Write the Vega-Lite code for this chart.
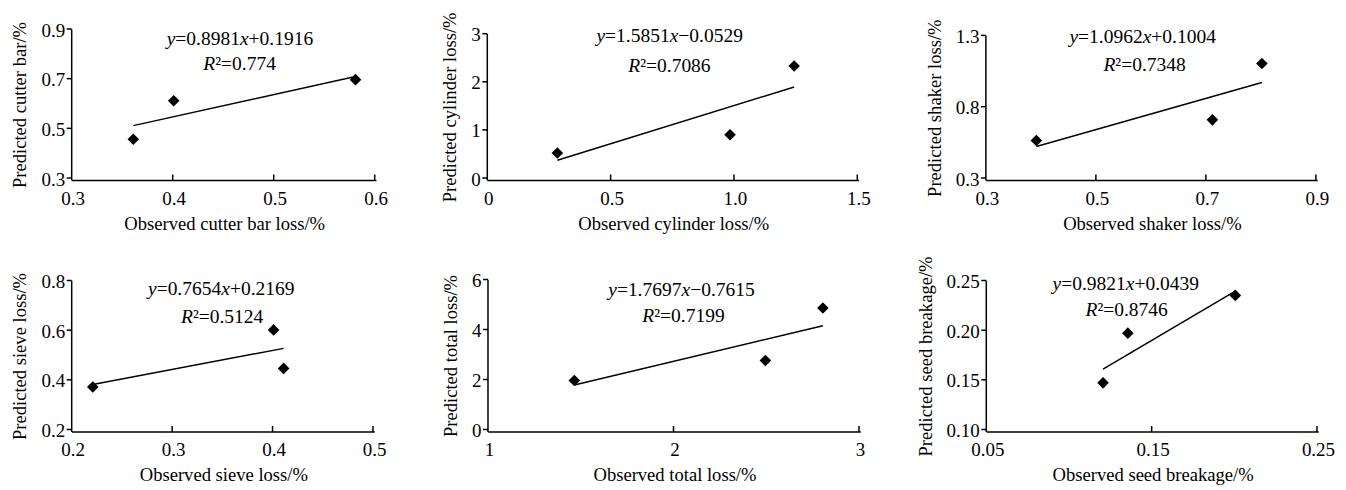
{
  "$schema": "https://vega.github.io/schema/vega-lite/v6.json",
  "padding": {"left": 10.7, "top": 11, "right": 5, "bottom": 5},
  "background": "white",
  "datasets": {
    "pts": [
      {"panel": 1, "obs": 0.36, "pred": 0.46},
      {"panel": 1, "obs": 0.40, "pred": 0.615},
      {"panel": 1, "obs": 0.58, "pred": 0.70},
      {"panel": 2, "obs": 0.28, "pred": 0.54},
      {"panel": 2, "obs": 0.98, "pred": 0.92},
      {"panel": 2, "obs": 1.24, "pred": 2.35},
      {"panel": 3, "obs": 0.39, "pred": 0.57},
      {"panel": 3, "obs": 0.71, "pred": 0.715},
      {"panel": 3, "obs": 0.80, "pred": 1.11},
      {"panel": 4, "obs": 0.22, "pred": 0.375},
      {"panel": 4, "obs": 0.40, "pred": 0.605},
      {"panel": 4, "obs": 0.41, "pred": 0.45},
      {"panel": 5, "obs": 1.46, "pred": 2.0},
      {"panel": 5, "obs": 2.49, "pred": 2.8},
      {"panel": 5, "obs": 2.80, "pred": 4.9},
      {"panel": 6, "obs": 0.12, "pred": 0.148},
      {"panel": 6, "obs": 0.135, "pred": 0.198},
      {"panel": 6, "obs": 0.20, "pred": 0.236}
    ],
    "fit": [
      {"panel": 1, "obs": 0.36, "pred": 0.5149},
      {"panel": 1, "obs": 0.58, "pred": 0.7125},
      {"panel": 2, "obs": 0.28, "pred": 0.3909},
      {"panel": 2, "obs": 1.24, "pred": 1.9126},
      {"panel": 3, "obs": 0.39, "pred": 0.5279},
      {"panel": 3, "obs": 0.80, "pred": 0.9774},
      {"panel": 4, "obs": 0.22, "pred": 0.3853},
      {"panel": 4, "obs": 0.41, "pred": 0.5307},
      {"panel": 5, "obs": 1.46, "pred": 1.8223},
      {"panel": 5, "obs": 2.80, "pred": 4.1937},
      {"panel": 6, "obs": 0.12, "pred": 0.1618},
      {"panel": 6, "obs": 0.20, "pred": 0.2403}
    ],
    "frame": [
      {"panel": 1, "obs": 0.3, "obs2": 0.6, "pred": 0.3, "pred2": 0.9},
      {"panel": 2, "obs": 0, "obs2": 1.5, "pred": 0, "pred2": 3},
      {"panel": 3, "obs": 0.3, "obs2": 0.9, "pred": 0.3, "pred2": 1.3},
      {"panel": 4, "obs": 0.2, "obs2": 0.5, "pred": 0.2, "pred2": 0.8},
      {"panel": 5, "obs": 1, "obs2": 3, "pred": 0, "pred2": 6},
      {"panel": 6, "obs": 0.05, "obs2": 0.25, "pred": 0.1, "pred2": 0.25}
    ],
    "xtick": [
      {"panel": 1, "obs": 0.4, "pred": 0.3}, {"panel": 1, "obs": 0.5, "pred": 0.3}, {"panel": 1, "obs": 0.6, "pred": 0.3},
      {"panel": 2, "obs": 0.5, "pred": 0}, {"panel": 2, "obs": 1, "pred": 0}, {"panel": 2, "obs": 1.5, "pred": 0},
      {"panel": 3, "obs": 0.5, "pred": 0.3}, {"panel": 3, "obs": 0.7, "pred": 0.3}, {"panel": 3, "obs": 0.9, "pred": 0.3},
      {"panel": 4, "obs": 0.3, "pred": 0.2}, {"panel": 4, "obs": 0.4, "pred": 0.2}, {"panel": 4, "obs": 0.5, "pred": 0.2},
      {"panel": 5, "obs": 2, "pred": 0}, {"panel": 5, "obs": 3, "pred": 0},
      {"panel": 6, "obs": 0.15, "pred": 0.1}, {"panel": 6, "obs": 0.25, "pred": 0.1}
    ],
    "ytick": [
      {"panel": 1, "obs": 0.3, "pred": 0.3}, {"panel": 1, "obs": 0.3, "pred": 0.5}, {"panel": 1, "obs": 0.3, "pred": 0.7}, {"panel": 1, "obs": 0.3, "pred": 0.9},
      {"panel": 2, "obs": 0, "pred": 0}, {"panel": 2, "obs": 0, "pred": 1}, {"panel": 2, "obs": 0, "pred": 2}, {"panel": 2, "obs": 0, "pred": 3},
      {"panel": 3, "obs": 0.3, "pred": 0.3}, {"panel": 3, "obs": 0.3, "pred": 0.8}, {"panel": 3, "obs": 0.3, "pred": 1.3},
      {"panel": 4, "obs": 0.2, "pred": 0.2}, {"panel": 4, "obs": 0.2, "pred": 0.4}, {"panel": 4, "obs": 0.2, "pred": 0.6}, {"panel": 4, "obs": 0.2, "pred": 0.8},
      {"panel": 5, "obs": 1, "pred": 0}, {"panel": 5, "obs": 1, "pred": 2}, {"panel": 5, "obs": 1, "pred": 4}, {"panel": 5, "obs": 1, "pred": 6},
      {"panel": 6, "obs": 0.05, "pred": 0.1}, {"panel": 6, "obs": 0.05, "pred": 0.15}, {"panel": 6, "obs": 0.05, "pred": 0.2}, {"panel": 6, "obs": 0.05, "pred": 0.25}
    ],
    "eq": [
      {"panel": 1, "obs": 0.4656, "pred": 0.863, "coef": "=0.8981", "icpt": "+0.1916"},
      {"panel": 2, "obs": 0.7354, "pred": 2.981, "coef": "=1.5851", "icpt": "−0.0529"},
      {"panel": 3, "obs": 0.5833, "pred": 1.2944, "coef": "=1.0962", "icpt": "+0.1004"},
      {"panel": 4, "obs": 0.3479, "pred": 0.7701, "coef": "=0.7654", "icpt": "+0.2169"},
      {"panel": 5, "obs": 2.0377, "pred": 5.624, "coef": "=1.7697", "icpt": "−0.7615"},
      {"panel": 6, "obs": 0.1338, "pred": 0.2476, "coef": "=0.9821", "icpt": "+0.0439"}
    ],
    "r2": [
      {"panel": 1, "obs": 0.4411, "pred": 0.7635, "r2": "²=0.774"},
      {"panel": 2, "obs": 0.6158, "pred": 2.355, "r2": "²=0.7086"},
      {"panel": 3, "obs": 0.5336, "pred": 1.1015, "r2": "²=0.7348"},
      {"panel": 4, "obs": 0.3197, "pred": 0.6589, "r2": "²=0.5124"},
      {"panel": 5, "obs": 1.891, "pred": 4.596, "r2": "²=0.7199"},
      {"panel": 6, "obs": 0.1166, "pred": 0.2218, "r2": "²=0.8746"}
    ]
  },
  "spacing": 21.5,
  "vconcat": [
    {
      "bounds": "flush",
      "spacing": 112.6,
      "hconcat": [
        {
          "width": 303, "height": 149,
          "layer": [
            {"data": {"name": "fit"}, "transform": [{"filter": "datum.panel == 1"}],
             "mark": {"type": "line", "color": "#000", "strokeWidth": 1.5},
             "encoding": {
               "x": {"field": "obs", "type": "quantitative", "scale": {"domain": [0.3, 0.6], "nice": false, "zero": false}, "axis": {"domain": false, "tickOpacity": 0, "tickSize": -6, "labelPadding": 16, "titlePadding": 6.5, "labelOverlap": false, "labelFlush": false, "grid": false, "values": [0.3, 0.4, 0.5, 0.6], "format": ".1f", "title": "Observed cutter bar loss/%"}},
               "y": {"field": "pred", "type": "quantitative", "scale": {"domain": [0.3, 0.9], "nice": false, "zero": false}, "axis": {"domain": false, "tickOpacity": 0, "tickSize": 5, "labelPadding": 3, "titlePadding": 11, "labelOverlap": false, "labelFlush": false, "grid": false, "values": [0.3, 0.5, 0.7, 0.9], "format": ".1f", "title": "Predicted cutter bar/%"}}}},
            {"data": {"name": "frame"}, "transform": [{"filter": "datum.panel == 1"}],
             "mark": {"type": "rule", "color": "#000", "strokeWidth": 1.5, "strokeCap": "square", "yOffset": 1.5},
             "encoding": {"x": {"field": "obs", "type": "quantitative"}, "x2": {"field": "obs2"}, "y": {"field": "pred", "type": "quantitative"}}},
            {"data": {"name": "frame"}, "transform": [{"filter": "datum.panel == 1"}],
             "mark": {"type": "rule", "color": "#000", "strokeWidth": 1.5, "strokeCap": "square", "xOffset": -1, "yOffset": 0.75},
             "encoding": {"x": {"field": "obs", "type": "quantitative"}, "y": {"field": "pred", "type": "quantitative"}, "y2": {"field": "pred2"}}},
            {"data": {"name": "xtick"}, "transform": [{"filter": "datum.panel == 1"}],
             "mark": {"type": "tick", "orient": "vertical", "size": 6, "thickness": 1.5, "xOffset": -1, "yOffset": -1.5, "color": "#000", "opacity": 1},
             "encoding": {"x": {"field": "obs", "type": "quantitative"}, "y": {"field": "pred", "type": "quantitative"}}},
            {"data": {"name": "ytick"}, "transform": [{"filter": "datum.panel == 1"}],
             "mark": {"type": "tick", "orient": "horizontal", "size": 5, "thickness": 1.5, "xOffset": -3.5, "yOffset": -1, "color": "#000", "opacity": 1},
             "encoding": {"x": {"field": "obs", "type": "quantitative"}, "y": {"field": "pred", "type": "quantitative"}}},
            {"data": {"name": "pts"}, "transform": [{"filter": "datum.panel == 1"}],
             "mark": {"type": "point", "shape": "diamond", "filled": true, "color": "#000", "size": 135, "opacity": 1},
             "encoding": {"x": {"field": "obs", "type": "quantitative"}, "y": {"field": "pred", "type": "quantitative"}}},
            {"data": {"name": "eq"}, "transform": [{"filter": "datum.panel == 1"}],
             "mark": {"type": "text", "text": "y", "fontStyle": "italic", "align": "left", "dx": -73.25},
             "encoding": {"x": {"field": "obs", "type": "quantitative"}, "y": {"field": "pred", "type": "quantitative"}}},
            {"data": {"name": "eq"}, "transform": [{"filter": "datum.panel == 1"}],
             "mark": {"type": "text", "align": "left", "dx": -64.6},
             "encoding": {"x": {"field": "obs", "type": "quantitative"}, "y": {"field": "pred", "type": "quantitative"}, "text": {"field": "coef"}}},
            {"data": {"name": "eq"}, "transform": [{"filter": "datum.panel == 1"}],
             "mark": {"type": "text", "text": "x", "fontStyle": "italic", "align": "left", "dx": 0},
             "encoding": {"x": {"field": "obs", "type": "quantitative"}, "y": {"field": "pred", "type": "quantitative"}}},
            {"data": {"name": "eq"}, "transform": [{"filter": "datum.panel == 1"}],
             "mark": {"type": "text", "align": "left", "dx": 8.66},
             "encoding": {"x": {"field": "obs", "type": "quantitative"}, "y": {"field": "pred", "type": "quantitative"}, "text": {"field": "icpt"}}},
            {"data": {"name": "r2"}, "transform": [{"filter": "datum.panel == 1"}],
             "mark": {"type": "text", "text": "R", "fontStyle": "italic", "align": "right"},
             "encoding": {"x": {"field": "obs", "type": "quantitative"}, "y": {"field": "pred", "type": "quantitative"}}},
            {"data": {"name": "r2"}, "transform": [{"filter": "datum.panel == 1"}],
             "mark": {"type": "text", "align": "left"},
             "encoding": {"x": {"field": "obs", "type": "quantitative"}, "y": {"field": "pred", "type": "quantitative"}, "text": {"field": "r2"}}}
          ]
        },
        {
          "width": 385.8, "height": 149,
          "layer": [
            {"data": {"name": "fit"}, "transform": [{"filter": "datum.panel == 2"}],
             "mark": {"type": "line", "color": "#000", "strokeWidth": 1.5},
             "encoding": {
               "x": {"field": "obs", "type": "quantitative", "scale": {"domain": [0, 1.5], "range": [0, 370], "nice": false, "zero": false}, "axis": {"domain": false, "tickOpacity": 0, "tickSize": -6, "labelPadding": 16, "titlePadding": 6.5, "labelOverlap": false, "labelFlush": false, "grid": false, "values": [0, 0.5, 1, 1.5], "labelExpr": "datum.value == 0 ? '0' : format(datum.value, '.1f')", "title": "Observed cylinder loss/%"}},
               "y": {"field": "pred", "type": "quantitative", "scale": {"domain": [0, 3], "range": [149, 4.7], "nice": false, "zero": false}, "axis": {"domain": false, "tickOpacity": 0, "tickSize": 5, "labelPadding": 3, "titlePadding": 11, "labelOverlap": false, "labelFlush": false, "grid": false, "values": [0, 1, 2, 3], "labelExpr": "format(datum.value, 'd')", "title": "Predicted cylinder loss/%"}}}},
            {"data": {"name": "frame"}, "transform": [{"filter": "datum.panel == 2"}],
             "mark": {"type": "rule", "color": "#000", "strokeWidth": 1.5, "strokeCap": "square", "yOffset": 1.5},
             "encoding": {"x": {"field": "obs", "type": "quantitative"}, "x2": {"field": "obs2"}, "y": {"field": "pred", "type": "quantitative"}}},
            {"data": {"name": "frame"}, "transform": [{"filter": "datum.panel == 2"}],
             "mark": {"type": "rule", "color": "#000", "strokeWidth": 1.5, "strokeCap": "square", "xOffset": -1, "yOffset": 0.75},
             "encoding": {"x": {"field": "obs", "type": "quantitative"}, "y": {"field": "pred", "type": "quantitative"}, "y2": {"field": "pred2"}}},
            {"data": {"name": "xtick"}, "transform": [{"filter": "datum.panel == 2"}],
             "mark": {"type": "tick", "orient": "vertical", "size": 6, "thickness": 1.5, "xOffset": -1, "yOffset": -1.5, "color": "#000", "opacity": 1},
             "encoding": {"x": {"field": "obs", "type": "quantitative"}, "y": {"field": "pred", "type": "quantitative"}}},
            {"data": {"name": "ytick"}, "transform": [{"filter": "datum.panel == 2"}],
             "mark": {"type": "tick", "orient": "horizontal", "size": 5, "thickness": 1.5, "xOffset": -3.5, "yOffset": -1, "color": "#000", "opacity": 1},
             "encoding": {"x": {"field": "obs", "type": "quantitative"}, "y": {"field": "pred", "type": "quantitative"}}},
            {"data": {"name": "pts"}, "transform": [{"filter": "datum.panel == 2"}],
             "mark": {"type": "point", "shape": "diamond", "filled": true, "color": "#000", "size": 135, "opacity": 1},
             "encoding": {"x": {"field": "obs", "type": "quantitative"}, "y": {"field": "pred", "type": "quantitative"}}},
            {"data": {"name": "eq"}, "transform": [{"filter": "datum.panel == 2"}],
             "mark": {"type": "text", "text": "y", "fontStyle": "italic", "align": "left", "dx": -73.25},
             "encoding": {"x": {"field": "obs", "type": "quantitative"}, "y": {"field": "pred", "type": "quantitative"}}},
            {"data": {"name": "eq"}, "transform": [{"filter": "datum.panel == 2"}],
             "mark": {"type": "text", "align": "left", "dx": -64.6},
             "encoding": {"x": {"field": "obs", "type": "quantitative"}, "y": {"field": "pred", "type": "quantitative"}, "text": {"field": "coef"}}},
            {"data": {"name": "eq"}, "transform": [{"filter": "datum.panel == 2"}],
             "mark": {"type": "text", "text": "x", "fontStyle": "italic", "align": "left", "dx": 0},
             "encoding": {"x": {"field": "obs", "type": "quantitative"}, "y": {"field": "pred", "type": "quantitative"}}},
            {"data": {"name": "eq"}, "transform": [{"filter": "datum.panel == 2"}],
             "mark": {"type": "text", "align": "left", "dx": 8.66},
             "encoding": {"x": {"field": "obs", "type": "quantitative"}, "y": {"field": "pred", "type": "quantitative"}, "text": {"field": "icpt"}}},
            {"data": {"name": "r2"}, "transform": [{"filter": "datum.panel == 2"}],
             "mark": {"type": "text", "text": "R", "fontStyle": "italic", "align": "right"},
             "encoding": {"x": {"field": "obs", "type": "quantitative"}, "y": {"field": "pred", "type": "quantitative"}}},
            {"data": {"name": "r2"}, "transform": [{"filter": "datum.panel == 2"}],
             "mark": {"type": "text", "align": "left"},
             "encoding": {"x": {"field": "obs", "type": "quantitative"}, "y": {"field": "pred", "type": "quantitative"}, "text": {"field": "r2"}}}
          ]
        },
        {
          "width": 330, "height": 149,
          "layer": [
            {"data": {"name": "fit"}, "transform": [{"filter": "datum.panel == 3"}],
             "mark": {"type": "line", "color": "#000", "strokeWidth": 1.5},
             "encoding": {
               "x": {"field": "obs", "type": "quantitative", "scale": {"domain": [0.3, 0.9], "nice": false, "zero": false}, "axis": {"domain": false, "tickOpacity": 0, "tickSize": -6, "labelPadding": 16, "titlePadding": 6.5, "labelOverlap": false, "labelFlush": false, "grid": false, "values": [0.3, 0.5, 0.7, 0.9], "format": ".1f", "title": "Observed shaker loss/%"}},
               "y": {"field": "pred", "type": "quantitative", "scale": {"domain": [0.3, 1.3], "range": [149, 6.4], "nice": false, "zero": false}, "axis": {"domain": false, "tickOpacity": 0, "tickSize": 5, "labelPadding": 3, "titlePadding": 11, "labelOverlap": false, "labelFlush": false, "grid": false, "values": [0.3, 0.8, 1.3], "format": ".1f", "title": "Predicted shaker loss/%"}}}},
            {"data": {"name": "frame"}, "transform": [{"filter": "datum.panel == 3"}],
             "mark": {"type": "rule", "color": "#000", "strokeWidth": 1.5, "strokeCap": "square", "yOffset": 1.5},
             "encoding": {"x": {"field": "obs", "type": "quantitative"}, "x2": {"field": "obs2"}, "y": {"field": "pred", "type": "quantitative"}}},
            {"data": {"name": "frame"}, "transform": [{"filter": "datum.panel == 3"}],
             "mark": {"type": "rule", "color": "#000", "strokeWidth": 1.5, "strokeCap": "square", "xOffset": -1, "yOffset": 0.75},
             "encoding": {"x": {"field": "obs", "type": "quantitative"}, "y": {"field": "pred", "type": "quantitative"}, "y2": {"field": "pred2"}}},
            {"data": {"name": "xtick"}, "transform": [{"filter": "datum.panel == 3"}],
             "mark": {"type": "tick", "orient": "vertical", "size": 6, "thickness": 1.5, "xOffset": -1, "yOffset": -1.5, "color": "#000", "opacity": 1},
             "encoding": {"x": {"field": "obs", "type": "quantitative"}, "y": {"field": "pred", "type": "quantitative"}}},
            {"data": {"name": "ytick"}, "transform": [{"filter": "datum.panel == 3"}],
             "mark": {"type": "tick", "orient": "horizontal", "size": 5, "thickness": 1.5, "xOffset": -3.5, "yOffset": -1, "color": "#000", "opacity": 1},
             "encoding": {"x": {"field": "obs", "type": "quantitative"}, "y": {"field": "pred", "type": "quantitative"}}},
            {"data": {"name": "pts"}, "transform": [{"filter": "datum.panel == 3"}],
             "mark": {"type": "point", "shape": "diamond", "filled": true, "color": "#000", "size": 135, "opacity": 1},
             "encoding": {"x": {"field": "obs", "type": "quantitative"}, "y": {"field": "pred", "type": "quantitative"}}},
            {"data": {"name": "eq"}, "transform": [{"filter": "datum.panel == 3"}],
             "mark": {"type": "text", "text": "y", "fontStyle": "italic", "align": "left", "dx": -73.25},
             "encoding": {"x": {"field": "obs", "type": "quantitative"}, "y": {"field": "pred", "type": "quantitative"}}},
            {"data": {"name": "eq"}, "transform": [{"filter": "datum.panel == 3"}],
             "mark": {"type": "text", "align": "left", "dx": -64.6},
             "encoding": {"x": {"field": "obs", "type": "quantitative"}, "y": {"field": "pred", "type": "quantitative"}, "text": {"field": "coef"}}},
            {"data": {"name": "eq"}, "transform": [{"filter": "datum.panel == 3"}],
             "mark": {"type": "text", "text": "x", "fontStyle": "italic", "align": "left", "dx": 0},
             "encoding": {"x": {"field": "obs", "type": "quantitative"}, "y": {"field": "pred", "type": "quantitative"}}},
            {"data": {"name": "eq"}, "transform": [{"filter": "datum.panel == 3"}],
             "mark": {"type": "text", "align": "left", "dx": 8.66},
             "encoding": {"x": {"field": "obs", "type": "quantitative"}, "y": {"field": "pred", "type": "quantitative"}, "text": {"field": "icpt"}}},
            {"data": {"name": "r2"}, "transform": [{"filter": "datum.panel == 3"}],
             "mark": {"type": "text", "text": "R", "fontStyle": "italic", "align": "right"},
             "encoding": {"x": {"field": "obs", "type": "quantitative"}, "y": {"field": "pred", "type": "quantitative"}}},
            {"data": {"name": "r2"}, "transform": [{"filter": "datum.panel == 3"}],
             "mark": {"type": "text", "align": "left"},
             "encoding": {"x": {"field": "obs", "type": "quantitative"}, "y": {"field": "pred", "type": "quantitative"}, "text": {"field": "r2"}}}
          ]
        }
      ]
    },
    {
      "bounds": "flush",
      "spacing": 114.3,
      "hconcat": [
        {
          "width": 301.3, "height": 150,
          "layer": [
            {"data": {"name": "fit"}, "transform": [{"filter": "datum.panel == 4"}],
             "mark": {"type": "line", "color": "#000", "strokeWidth": 1.5},
             "encoding": {
               "x": {"field": "obs", "type": "quantitative", "scale": {"domain": [0.2, 0.5], "nice": false, "zero": false}, "axis": {"domain": false, "tickOpacity": 0, "tickSize": -6, "labelPadding": 16, "titlePadding": 6.5, "labelOverlap": false, "labelFlush": false, "grid": false, "values": [0.2, 0.3, 0.4, 0.5], "format": ".1f", "title": "Observed sieve loss/%"}},
               "y": {"field": "pred", "type": "quantitative", "scale": {"domain": [0.2, 0.8], "range": [150, 1], "nice": false, "zero": false}, "axis": {"domain": false, "tickOpacity": 0, "tickSize": 5, "labelPadding": 3, "titlePadding": 11, "labelOverlap": false, "labelFlush": false, "grid": false, "values": [0.2, 0.4, 0.6, 0.8], "format": ".1f", "title": "Predicted sieve loss/%"}}}},
            {"data": {"name": "frame"}, "transform": [{"filter": "datum.panel == 4"}],
             "mark": {"type": "rule", "color": "#000", "strokeWidth": 1.5, "strokeCap": "square", "yOffset": 1.5},
             "encoding": {"x": {"field": "obs", "type": "quantitative"}, "x2": {"field": "obs2"}, "y": {"field": "pred", "type": "quantitative"}}},
            {"data": {"name": "frame"}, "transform": [{"filter": "datum.panel == 4"}],
             "mark": {"type": "rule", "color": "#000", "strokeWidth": 1.5, "strokeCap": "square", "xOffset": -1, "yOffset": 0.75},
             "encoding": {"x": {"field": "obs", "type": "quantitative"}, "y": {"field": "pred", "type": "quantitative"}, "y2": {"field": "pred2"}}},
            {"data": {"name": "xtick"}, "transform": [{"filter": "datum.panel == 4"}],
             "mark": {"type": "tick", "orient": "vertical", "size": 6, "thickness": 1.5, "xOffset": -1, "yOffset": -1.5, "color": "#000", "opacity": 1},
             "encoding": {"x": {"field": "obs", "type": "quantitative"}, "y": {"field": "pred", "type": "quantitative"}}},
            {"data": {"name": "ytick"}, "transform": [{"filter": "datum.panel == 4"}],
             "mark": {"type": "tick", "orient": "horizontal", "size": 5, "thickness": 1.5, "xOffset": -3.5, "yOffset": -1, "color": "#000", "opacity": 1},
             "encoding": {"x": {"field": "obs", "type": "quantitative"}, "y": {"field": "pred", "type": "quantitative"}}},
            {"data": {"name": "pts"}, "transform": [{"filter": "datum.panel == 4"}],
             "mark": {"type": "point", "shape": "diamond", "filled": true, "color": "#000", "size": 135, "opacity": 1},
             "encoding": {"x": {"field": "obs", "type": "quantitative"}, "y": {"field": "pred", "type": "quantitative"}}},
            {"data": {"name": "eq"}, "transform": [{"filter": "datum.panel == 4"}],
             "mark": {"type": "text", "text": "y", "fontStyle": "italic", "align": "left", "dx": -73.25},
             "encoding": {"x": {"field": "obs", "type": "quantitative"}, "y": {"field": "pred", "type": "quantitative"}}},
            {"data": {"name": "eq"}, "transform": [{"filter": "datum.panel == 4"}],
             "mark": {"type": "text", "align": "left", "dx": -64.6},
             "encoding": {"x": {"field": "obs", "type": "quantitative"}, "y": {"field": "pred", "type": "quantitative"}, "text": {"field": "coef"}}},
            {"data": {"name": "eq"}, "transform": [{"filter": "datum.panel == 4"}],
             "mark": {"type": "text", "text": "x", "fontStyle": "italic", "align": "left", "dx": 0},
             "encoding": {"x": {"field": "obs", "type": "quantitative"}, "y": {"field": "pred", "type": "quantitative"}}},
            {"data": {"name": "eq"}, "transform": [{"filter": "datum.panel == 4"}],
             "mark": {"type": "text", "align": "left", "dx": 8.66},
             "encoding": {"x": {"field": "obs", "type": "quantitative"}, "y": {"field": "pred", "type": "quantitative"}, "text": {"field": "icpt"}}},
            {"data": {"name": "r2"}, "transform": [{"filter": "datum.panel == 4"}],
             "mark": {"type": "text", "text": "R", "fontStyle": "italic", "align": "right"},
             "encoding": {"x": {"field": "obs", "type": "quantitative"}, "y": {"field": "pred", "type": "quantitative"}}},
            {"data": {"name": "r2"}, "transform": [{"filter": "datum.panel == 4"}],
             "mark": {"type": "text", "align": "left"},
             "encoding": {"x": {"field": "obs", "type": "quantitative"}, "y": {"field": "pred", "type": "quantitative"}, "text": {"field": "r2"}}}
          ]
        },
        {
          "width": 383.4, "height": 150,
          "layer": [
            {"data": {"name": "fit"}, "transform": [{"filter": "datum.panel == 5"}],
             "mark": {"type": "line", "color": "#000", "strokeWidth": 1.5},
             "encoding": {
               "x": {"field": "obs", "type": "quantitative", "scale": {"domain": [1, 3], "range": [0, 371], "nice": false, "zero": false}, "axis": {"domain": false, "tickOpacity": 0, "tickSize": -6, "labelPadding": 16, "titlePadding": 6.5, "labelOverlap": false, "labelFlush": false, "grid": false, "values": [1, 2, 3], "labelExpr": "format(datum.value, 'd')", "title": "Observed total loss/%"}},
               "y": {"field": "pred", "type": "quantitative", "scale": {"domain": [0, 6], "nice": false, "zero": false}, "axis": {"domain": false, "tickOpacity": 0, "tickSize": 5, "labelPadding": 3, "titlePadding": 11, "labelOverlap": false, "labelFlush": false, "grid": false, "values": [0, 2, 4, 6], "labelExpr": "format(datum.value, 'd')", "title": "Predicted total loss/%"}}}},
            {"data": {"name": "frame"}, "transform": [{"filter": "datum.panel == 5"}],
             "mark": {"type": "rule", "color": "#000", "strokeWidth": 1.5, "strokeCap": "square", "yOffset": 1.5},
             "encoding": {"x": {"field": "obs", "type": "quantitative"}, "x2": {"field": "obs2"}, "y": {"field": "pred", "type": "quantitative"}}},
            {"data": {"name": "frame"}, "transform": [{"filter": "datum.panel == 5"}],
             "mark": {"type": "rule", "color": "#000", "strokeWidth": 1.5, "strokeCap": "square", "xOffset": -1, "yOffset": 0.75},
             "encoding": {"x": {"field": "obs", "type": "quantitative"}, "y": {"field": "pred", "type": "quantitative"}, "y2": {"field": "pred2"}}},
            {"data": {"name": "xtick"}, "transform": [{"filter": "datum.panel == 5"}],
             "mark": {"type": "tick", "orient": "vertical", "size": 6, "thickness": 1.5, "xOffset": -1, "yOffset": -1.5, "color": "#000", "opacity": 1},
             "encoding": {"x": {"field": "obs", "type": "quantitative"}, "y": {"field": "pred", "type": "quantitative"}}},
            {"data": {"name": "ytick"}, "transform": [{"filter": "datum.panel == 5"}],
             "mark": {"type": "tick", "orient": "horizontal", "size": 5, "thickness": 1.5, "xOffset": -3.5, "yOffset": -1, "color": "#000", "opacity": 1},
             "encoding": {"x": {"field": "obs", "type": "quantitative"}, "y": {"field": "pred", "type": "quantitative"}}},
            {"data": {"name": "pts"}, "transform": [{"filter": "datum.panel == 5"}],
             "mark": {"type": "point", "shape": "diamond", "filled": true, "color": "#000", "size": 135, "opacity": 1},
             "encoding": {"x": {"field": "obs", "type": "quantitative"}, "y": {"field": "pred", "type": "quantitative"}}},
            {"data": {"name": "eq"}, "transform": [{"filter": "datum.panel == 5"}],
             "mark": {"type": "text", "text": "y", "fontStyle": "italic", "align": "left", "dx": -73.25},
             "encoding": {"x": {"field": "obs", "type": "quantitative"}, "y": {"field": "pred", "type": "quantitative"}}},
            {"data": {"name": "eq"}, "transform": [{"filter": "datum.panel == 5"}],
             "mark": {"type": "text", "align": "left", "dx": -64.6},
             "encoding": {"x": {"field": "obs", "type": "quantitative"}, "y": {"field": "pred", "type": "quantitative"}, "text": {"field": "coef"}}},
            {"data": {"name": "eq"}, "transform": [{"filter": "datum.panel == 5"}],
             "mark": {"type": "text", "text": "x", "fontStyle": "italic", "align": "left", "dx": 0},
             "encoding": {"x": {"field": "obs", "type": "quantitative"}, "y": {"field": "pred", "type": "quantitative"}}},
            {"data": {"name": "eq"}, "transform": [{"filter": "datum.panel == 5"}],
             "mark": {"type": "text", "align": "left", "dx": 8.66},
             "encoding": {"x": {"field": "obs", "type": "quantitative"}, "y": {"field": "pred", "type": "quantitative"}, "text": {"field": "icpt"}}},
            {"data": {"name": "r2"}, "transform": [{"filter": "datum.panel == 5"}],
             "mark": {"type": "text", "text": "R", "fontStyle": "italic", "align": "right"},
             "encoding": {"x": {"field": "obs", "type": "quantitative"}, "y": {"field": "pred", "type": "quantitative"}}},
            {"data": {"name": "r2"}, "transform": [{"filter": "datum.panel == 5"}],
             "mark": {"type": "text", "align": "left"},
             "encoding": {"x": {"field": "obs", "type": "quantitative"}, "y": {"field": "pred", "type": "quantitative"}, "text": {"field": "r2"}}}
          ]
        },
        {
          "width": 330.7, "height": 150,
          "layer": [
            {"data": {"name": "fit"}, "transform": [{"filter": "datum.panel == 6"}],
             "mark": {"type": "line", "color": "#000", "strokeWidth": 1.5},
             "encoding": {
               "x": {"field": "obs", "type": "quantitative", "scale": {"domain": [0.05, 0.25], "nice": false, "zero": false}, "axis": {"domain": false, "tickOpacity": 0, "tickSize": -6, "labelPadding": 16, "titlePadding": 6.5, "labelOverlap": false, "labelFlush": false, "grid": false, "values": [0.05, 0.15, 0.25], "format": ".2f", "title": "Observed seed breakage/%"}},
               "y": {"field": "pred", "type": "quantitative", "scale": {"domain": [0.1, 0.25], "range": [150, 1], "nice": false, "zero": false}, "axis": {"domain": false, "tickOpacity": 0, "tickSize": 5, "labelPadding": 3, "titlePadding": 11, "labelOverlap": false, "labelFlush": false, "grid": false, "values": [0.1, 0.15, 0.2, 0.25], "format": ".2f", "title": "Predicted seed breakage/%"}}}},
            {"data": {"name": "frame"}, "transform": [{"filter": "datum.panel == 6"}],
             "mark": {"type": "rule", "color": "#000", "strokeWidth": 1.5, "strokeCap": "square", "yOffset": 1.5},
             "encoding": {"x": {"field": "obs", "type": "quantitative"}, "x2": {"field": "obs2"}, "y": {"field": "pred", "type": "quantitative"}}},
            {"data": {"name": "frame"}, "transform": [{"filter": "datum.panel == 6"}],
             "mark": {"type": "rule", "color": "#000", "strokeWidth": 1.5, "strokeCap": "square", "xOffset": -1, "yOffset": 0.75},
             "encoding": {"x": {"field": "obs", "type": "quantitative"}, "y": {"field": "pred", "type": "quantitative"}, "y2": {"field": "pred2"}}},
            {"data": {"name": "xtick"}, "transform": [{"filter": "datum.panel == 6"}],
             "mark": {"type": "tick", "orient": "vertical", "size": 6, "thickness": 1.5, "xOffset": -1, "yOffset": -1.5, "color": "#000", "opacity": 1},
             "encoding": {"x": {"field": "obs", "type": "quantitative"}, "y": {"field": "pred", "type": "quantitative"}}},
            {"data": {"name": "ytick"}, "transform": [{"filter": "datum.panel == 6"}],
             "mark": {"type": "tick", "orient": "horizontal", "size": 5, "thickness": 1.5, "xOffset": -3.5, "yOffset": -1, "color": "#000", "opacity": 1},
             "encoding": {"x": {"field": "obs", "type": "quantitative"}, "y": {"field": "pred", "type": "quantitative"}}},
            {"data": {"name": "pts"}, "transform": [{"filter": "datum.panel == 6"}],
             "mark": {"type": "point", "shape": "diamond", "filled": true, "color": "#000", "size": 135, "opacity": 1},
             "encoding": {"x": {"field": "obs", "type": "quantitative"}, "y": {"field": "pred", "type": "quantitative"}}},
            {"data": {"name": "eq"}, "transform": [{"filter": "datum.panel == 6"}],
             "mark": {"type": "text", "text": "y", "fontStyle": "italic", "align": "left", "dx": -73.25},
             "encoding": {"x": {"field": "obs", "type": "quantitative"}, "y": {"field": "pred", "type": "quantitative"}}},
            {"data": {"name": "eq"}, "transform": [{"filter": "datum.panel == 6"}],
             "mark": {"type": "text", "align": "left", "dx": -64.6},
             "encoding": {"x": {"field": "obs", "type": "quantitative"}, "y": {"field": "pred", "type": "quantitative"}, "text": {"field": "coef"}}},
            {"data": {"name": "eq"}, "transform": [{"filter": "datum.panel == 6"}],
             "mark": {"type": "text", "text": "x", "fontStyle": "italic", "align": "left", "dx": 0},
             "encoding": {"x": {"field": "obs", "type": "quantitative"}, "y": {"field": "pred", "type": "quantitative"}}},
            {"data": {"name": "eq"}, "transform": [{"filter": "datum.panel == 6"}],
             "mark": {"type": "text", "align": "left", "dx": 8.66},
             "encoding": {"x": {"field": "obs", "type": "quantitative"}, "y": {"field": "pred", "type": "quantitative"}, "text": {"field": "icpt"}}},
            {"data": {"name": "r2"}, "transform": [{"filter": "datum.panel == 6"}],
             "mark": {"type": "text", "text": "R", "fontStyle": "italic", "align": "right"},
             "encoding": {"x": {"field": "obs", "type": "quantitative"}, "y": {"field": "pred", "type": "quantitative"}}},
            {"data": {"name": "r2"}, "transform": [{"filter": "datum.panel == 6"}],
             "mark": {"type": "text", "align": "left"},
             "encoding": {"x": {"field": "obs", "type": "quantitative"}, "y": {"field": "pred", "type": "quantitative"}, "text": {"field": "r2"}}}
          ]
        }
      ]
    }
  ],
  "config": {
    "view": {"stroke": null},
    "font": "Liberation Serif",
    "text": {"font": "Liberation Serif", "fontSize": 19.5, "color": "#000", "baseline": "middle"},
    "axis": {
      "grid": false,
      "labelColor": "#000", "titleColor": "#000",
      "labelFont": "Liberation Serif", "titleFont": "Liberation Serif",
      "labelFontSize": 19, "titleFontSize": 18.6, "titleFontWeight": "normal"
    }
  }
}
